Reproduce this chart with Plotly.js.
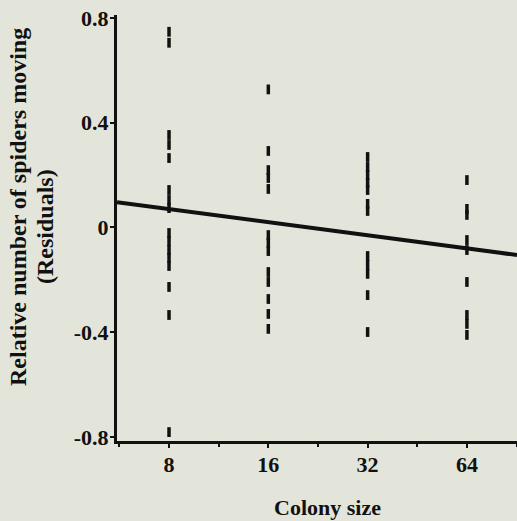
<!DOCTYPE html>
<html>
<head>
<meta charset="utf-8">
<script src="https://cdn.plot.ly/plotly-3.0.1.min.js"></script>
<style>html,body{margin:0;padding:0;background:#e4e5da;}</style>
</head>
<body>
<div id="chart" style="width:517px;height:521px;"></div>
<script>
// Colony size groups and residuals
const size8 = [0.747, 0.705, 0.353, 0.315, 0.265, 0.143, 0.105, 0.074, -0.021, -0.052, -0.086, -0.116, -0.147, -0.227, -0.334, -0.781];
const size16 = [0.527, 0.292, 0.219, 0.189, 0.147, -0.029, -0.059, -0.090, -0.170, -0.208, -0.273, -0.330, -0.387];
const size32 = [0.269, 0.231, 0.200, 0.170, 0.143, 0.090, 0.063, -0.109, -0.143, -0.177, -0.258, -0.399];
const size64 = [0.181, 0.071, 0.048, -0.048, -0.086, -0.208, -0.334, -0.368, -0.410];
const colonySizes = [8, 16, 32, 64];
const xTickLabels = ['8', '16', '32', '64'];
const yTickVals = [0.8, 0.4, 0, -0.4, -0.8];
const yTickLabels = ['0.8', '0.4', '0', '-0.4', '-0.8'];
// Regression: residual = fitAt8 + fitSlope * log2(size/8)
const fitAt8 = 0.07;
const fitSlope = -0.05;

const groups = [size8, size16, size32, size64];
const xs = [], ys = [];
groups.forEach((g, i) => g.forEach(v => { xs.push(colonySizes[i]); ys.push(v); }));

const xRange = [0.7454, 1.958]; // log10 axis range
const lineX = [Math.pow(10, xRange[0]), Math.pow(10, xRange[1])];
const lineY = lineX.map(x => fitAt8 + fitSlope * Math.log2(x / 8));

const ink = '#111111';
const fam = '"Liberation Serif", "Times New Roman", serif';
const tickFont = {family: fam, size: 22, color: ink, weight: 'bold'};
const titleFont = {family: fam, size: 22, color: ink, weight: 'bold'};
const yTitleFont = {family: fam, size: 24, color: ink, weight: 'bold'};

const traces = [
  {x: xs, y: ys, type: 'scatter', mode: 'markers', cliponaxis: false,
   marker: {symbol: 'line-ns-open', size: 7, color: ink, line: {width: 3.5, color: ink}},
   hoverinfo: 'x+y'},
  {x: lineX, y: lineY, type: 'scatter', mode: 'lines', cliponaxis: true,
   line: {color: ink, width: 4}}
];

const layout = {
  width: 517, height: 521,
  margin: {l: 117, r: 0, t: 15, b: 80},
  paper_bgcolor: '#e4e5da', plot_bgcolor: '#e4e5da',
  showlegend: false,
  xaxis: {
    type: 'log', range: xRange,
    tickvals: colonySizes, ticktext: xTickLabels,
    ticks: 'outside', ticklen: 4, tickwidth: 2, tickcolor: ink,
    minor: {tickmode: 'array', tickvals: [5.66, 11.31, 22.63, 45.25, 90.5], ticks: 'outside', ticklen: 3, tickwidth: 2, tickcolor: ink},
    showline: true, linewidth: 3, linecolor: ink,
    showgrid: false, zeroline: false,
    tickfont: tickFont, ticklabelstandoff: -2
  },
  yaxis: {
    range: [-0.815, 0.811],
    tickvals: yTickVals, ticktext: yTickLabels,
    ticks: 'outside', ticklen: 4, tickwidth: 2, tickcolor: ink,
    showline: true, linewidth: 3, linecolor: ink,
    showgrid: false, zeroline: false,
    tickfont: tickFont, ticklabelstandoff: -3
  },
  annotations: [
    {text: 'Relative number of spiders moving', xref: 'paper', yref: 'paper',
     x: -117/400 + 18/400, y: (441 - 207) / 426, textangle: -90, showarrow: false,
     font: yTitleFont, xanchor: 'center', yanchor: 'middle'},
    {text: '(Residuals)', xref: 'paper', yref: 'paper',
     x: -117/400 + 45/400, y: (441 - 227) / 426, textangle: -90, showarrow: false,
     font: yTitleFont, xanchor: 'center', yanchor: 'middle'},
    {text: 'Colony size', xref: 'paper', yref: 'paper',
     x: (327 - 117) / 400, y: -(507 - 441) / 426, showarrow: false,
     font: titleFont, xanchor: 'center', yanchor: 'middle'}
  ]
};

Plotly.newPlot('chart', traces, layout, {displayModeBar: false, staticPlot: true});
</script>
</body>
</html>
